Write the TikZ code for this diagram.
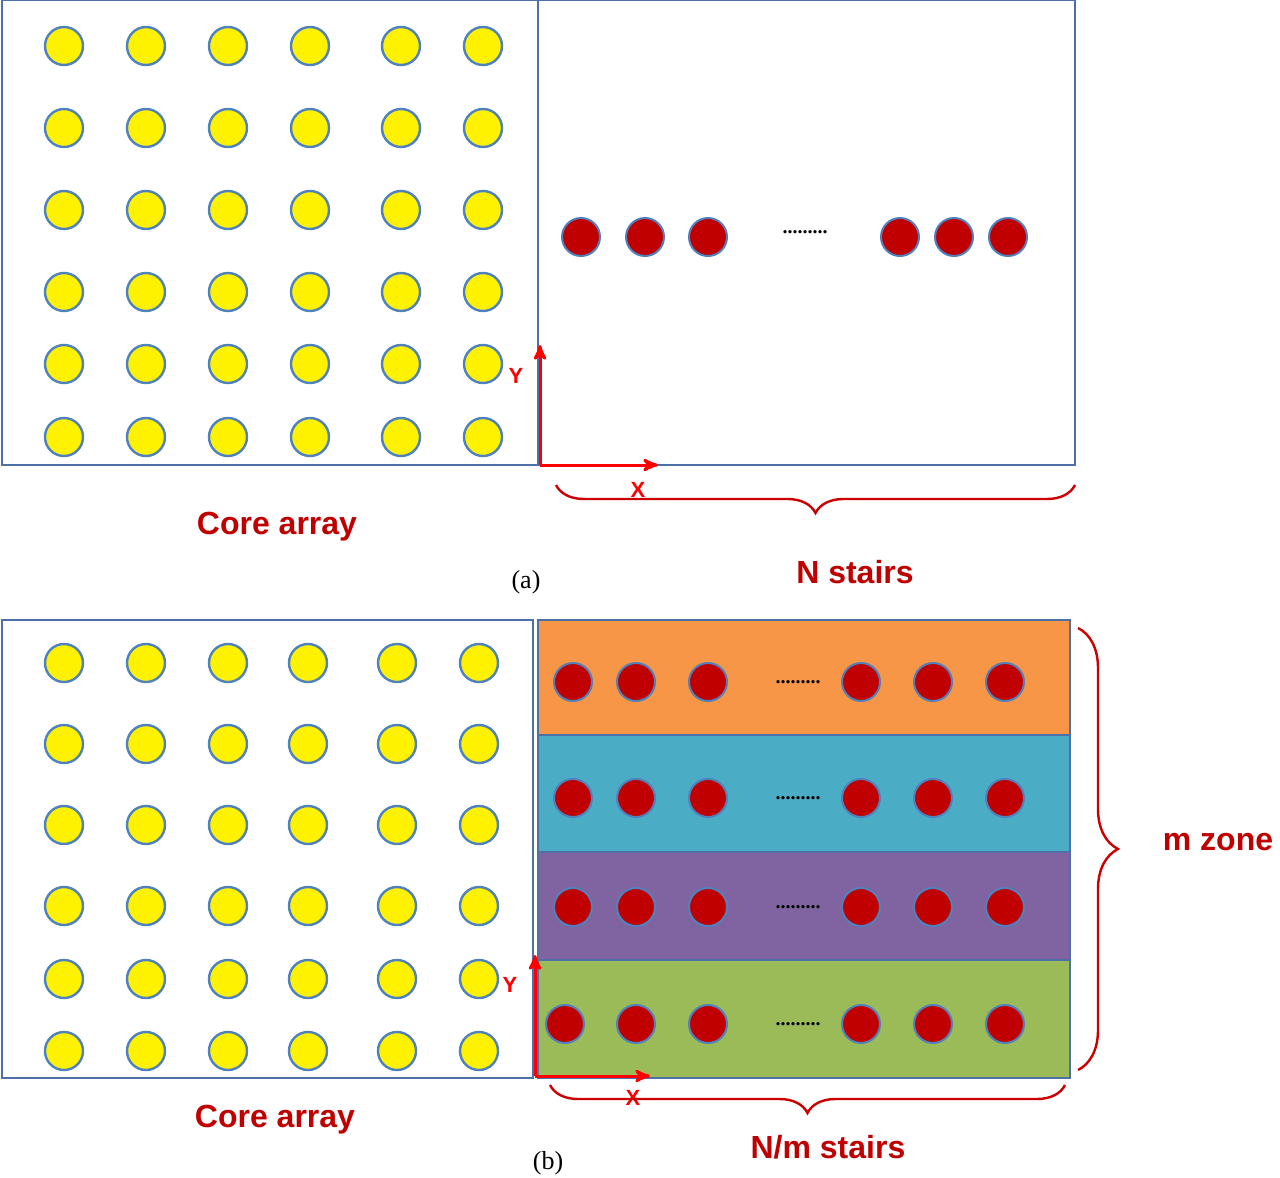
\documentclass[tikz,border=0pt]{standalone}
\usepackage{fontspec}
\setmainfont{Liberation Serif}
\newfontfamily\lblfont{Liberation Sans}
\usetikzlibrary{arrows,decorations.pathreplacing}
\definecolor{boxblue}{HTML}{4F6FA8}
\definecolor{rimblue}{HTML}{4F81BD}
\definecolor{darkred}{HTML}{C00000}
\definecolor{zoneA}{HTML}{F79646}
\definecolor{zoneB}{HTML}{4BACC6}
\definecolor{zoneC}{HTML}{8064A2}
\definecolor{zoneD}{HTML}{9BBB59}
\tikzset{
  core/.style={circle,draw=rimblue,line width=1.2pt,fill=yellow,minimum size=19pt,inner sep=0pt},
  stair/.style={circle,draw=rimblue,line width=1pt,fill=darkred,minimum size=19pt,inner sep=0pt},
  frame/.style={draw=boxblue,line width=1.2pt},
  axis/.style={->,>=stealth',red,line width=1.5pt},
  brace/.style={decorate,decoration={brace,amplitude=14pt},draw=red!80!black,line width=1.2pt},
  tag/.style={font=\lblfont\bfseries\fontsize{16}{18}\selectfont,text=darkred},
  ax/.style={font=\lblfont\bfseries\fontsize{11}{13}\selectfont,text=red},
  dotsline/.style={font=\bfseries\fontsize{10}{12}\selectfont}
}
\begin{document}
\begin{tikzpicture}[x=0.5pt,y=-0.5pt]
\useasboundingbox (0,0) rectangle (1280,1178);
% panel (a)
\draw[frame] (2,0) rectangle (538,465);
\draw[frame] (538,0) rectangle (1075,465);
\foreach \c/\x in {1/64,2/146,3/228,4/310,5/401,6/483}
  \foreach \r/\y in {1/46,2/128,3/210,4/292,5/364,6/437}
    \node[core] (a-\r-\c) at (\x,\y) {};
\foreach \i/\x in {1/581,2/645,3/708,4/900,5/954,6/1008}
  \node[stair] (as-\i) at (\x,237) {};
\node[dotsline] (adots) at (805,232) {.........};
\coordinate (ao) at (540,465);
\coordinate (ay) at (540,345);
\coordinate (ax) at (658,465);
\draw[axis] (ao) -- (ay);
\draw[axis] (ao) -- (ax);
\node[ax] (aylbl) at (516,376) {Y};
\node[ax] (axlbl) at (638,490) {X};
\coordinate (ab1) at (1075,485);
\coordinate (ab2) at (556,485);
\draw[brace] (ab1) -- (ab2);
\node[tag] (acore) at (277,527) {Core array};
\node[tag] (astairs) at (855,572) {N stairs};
\node[font=\fontsize{13}{15}\selectfont] (acap) at (526,582) {(a)};
% panel (b)
\draw[frame] (2,620) rectangle (533,1078);
\foreach \col/\t/\b in {zoneA/620/735,zoneB/735/852,zoneC/852/960,zoneD/960/1078}
  \draw[fill=\col,draw=boxblue,line width=1.2pt] (538,\t) rectangle (1070,\b);
\foreach \c/\x in {1/64,2/146,3/228,4/308,5/397,6/479}
  \foreach \r/\y in {1/663,2/744,3/825,4/906,5/979,6/1051}
    \node[core] (b-\r-\c) at (\x,\y) {};
\foreach \r/\y in {1/682,2/798,3/907}
  \foreach \i/\x in {1/573,2/636,3/708,4/861,5/933,6/1005}
    \node[stair] (bs-\r-\i) at (\x,\y) {};
\foreach \i/\x in {1/565,2/636,3/708,4/861,5/933,6/1005}
  \node[stair] (bs-4-\i) at (\x,1024) {};
\foreach \r/\y in {1/682,2/798,3/907,4/1024}
  \node[dotsline] (bdots-\r) at (798,\y) {.........};
\coordinate (bo) at (535,1076);
\coordinate (by) at (535,955);
\coordinate (bx) at (650,1076);
\draw[axis] (bo) -- (by);
\draw[axis] (bo) -- (bx);
\node[ax] (bylbl) at (510,985) {Y};
\node[ax] (bxlbl) at (633,1098) {X};
\coordinate (bb1) at (1065,1085);
\coordinate (bb2) at (550,1085);
\draw[brace] (bb1) -- (bb2);
\coordinate (bm1) at (1078,628);
\coordinate (bm2) at (1078,1070);
\draw[brace,decoration={amplitude=20pt}] (bm1) -- (bm2);
\node[tag] (bzone) at (1218,842) {m zone};
\node[tag] (bcore) at (275,1120) {Core array};
\node[tag] (bstairs) at (828,1147) {N/m stairs};
\node[font=\fontsize{13}{15}\selectfont] (bcap) at (548,1163) {(b)};
\end{tikzpicture}
\end{document}
